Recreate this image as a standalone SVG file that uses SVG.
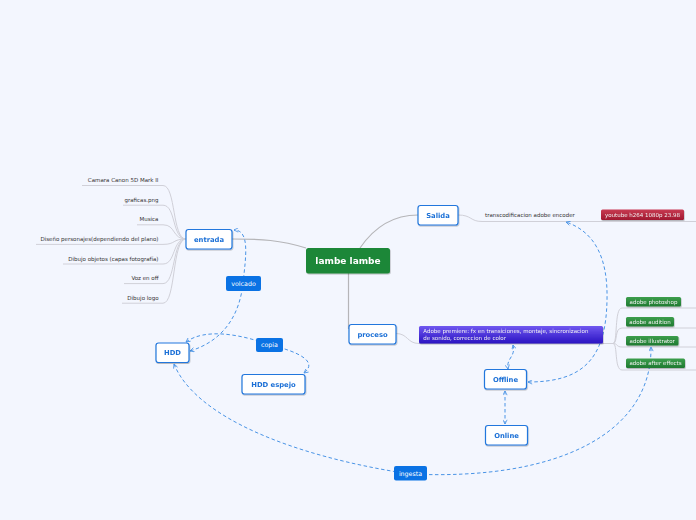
<svg xmlns="http://www.w3.org/2000/svg" width="696" height="520" viewBox="0 0 696 520">
<defs>
<style>
.node rect{fill:#fff;stroke:#2277dd;stroke-width:1.2}
.node text{font-family:'DejaVu Sans',sans-serif;font-weight:bold;font-size:6.8px;fill:#1a6fd6;text-anchor:middle}
.leaf{font-family:'DejaVu Sans',sans-serif;font-size:5.5px;fill:#333}
.lbl rect{fill:#0a72e4}
.lbl text{font-family:'DejaVu Sans',sans-serif;font-size:6.3px;fill:#fff;text-anchor:middle}
.tag text{font-family:'DejaVu Sans',sans-serif;font-size:5.5px;fill:#f2f2f2}
.green rect{fill:url(#gg)}
.main{fill:none;stroke:#b5b5b8;stroke-width:1.2}
.thin{fill:none;stroke:#d0d0d8;stroke-width:1}
.dash{fill:none;stroke:#4a94e6;stroke-width:1;stroke-dasharray:3.5 2.5;marker-start:url(#ah);marker-end:url(#ah)}
</style>
<marker id="ah" viewBox="0 0 6 6" refX="5.5" refY="3" markerWidth="5" markerHeight="5" orient="auto-start-reverse" markerUnits="userSpaceOnUse">
<path d="M0.5,0.5 L5.5,3 L0.5,5.5" fill="none" stroke="#4a94e6" stroke-width="1"/>
</marker>
<linearGradient id="gg" x1="0" y1="0" x2="0" y2="1"><stop offset="0" stop-color="#3c9e4c"/><stop offset="1" stop-color="#1f7a31"/></linearGradient>
<linearGradient id="gr" x1="0" y1="0" x2="0" y2="1"><stop offset="0" stop-color="#c83a52"/><stop offset="1" stop-color="#a01830"/></linearGradient>
<linearGradient id="gp" x1="0" y1="0" x2="0" y2="1"><stop offset="0" stop-color="#7058f0"/><stop offset="1" stop-color="#2a12c2"/></linearGradient>
<filter id="sh" x="-10%" y="-10%" width="130%" height="150%"><feDropShadow dx="0.6" dy="1" stdDeviation="0.6" flood-color="#000" flood-opacity="0.25"/></filter>
</defs>
<rect width="696" height="520" fill="#f3f6fe"/>

<g id="connectors">
<path class="main" d="M306,248 C280,240 262,239 232,239"/>
<path class="main" d="M360,248 C375,226 395,215 418,215"/>
<path class="main" d="M348.5,273 L348.5,329"/>
<path class="thin" d="M82,185.5 H163 C176,185.5 172,239 186,239"/>
<path class="thin" d="M123,205.2 H163 C176,205.2 172,239 186,239"/>
<path class="thin" d="M137,224.8 H163 C176,224.8 172,239 186,239"/>
<path class="thin" d="M36,244.4 H163 C176,244.4 172,239 186,239"/>
<path class="thin" d="M63,264 H163 C176,264 172,239 186,239"/>
<path class="thin" d="M124,283.6 H163 C176,283.6 172,239 186,239"/>
<path class="thin" d="M122,303.2 H163 C176,303.2 172,239 186,239"/>
<path class="thin" d="M458,215 C472,215 470,221.5 482,221.5 H696"/>
<path class="thin" d="M396,333.5 C408,333.5 407,343.5 419,343.5 H613"/>
<path class="thin" d="M613,343.5 C618,343.5 614,308 622,308 H696"/>
<path class="thin" d="M613,343.5 C618,343.5 614,328 622,328 H696"/>
<path class="thin" d="M613,343.5 C618,343.5 616,347 622,347 H696"/>
<path class="thin" d="M613,343.5 C618,343.5 614,370 622,370 H696"/>
<path class="dash" d="M190,351 C226,340 240,312 243,283 C246,256 250,230 234,230"/>
<path class="dash" d="M186,342 C205,328 240,334 270,345 C300,352 318,362 304,373"/>
<path class="dash" d="M528,382 C582,382 606,360 607,300 C608,258 595,232 566,222"/>
<path class="dash" d="M513,345 C516,357 506,358 508,369"/>
<path class="dash" d="M505,391 L505,424"/>
<path class="dash" d="M174,364 C195,416 290,456 410,474 C560,481 652,432 651,347"/>
</g>

<g id="center" filter="url(#sh)"><rect x="306" y="248" width="84" height="25.5" rx="2.5" fill="#1e8738"/><text x="348" y="264" font-family="'DejaVu Sans',sans-serif" font-weight="bold" font-size="9px" fill="#fff" text-anchor="middle">lambe lambe</text></g>

<g id="entrada" class="node" filter="url(#sh)"><rect x="186" y="229.5" width="46" height="19.5" rx="2.5"/><text x="209" y="241.6">entrada</text></g>
<g id="salida" class="node" filter="url(#sh)"><rect x="418" y="205.5" width="40" height="19.5" rx="2.5"/><text x="438" y="217.6">Salida</text></g>
<g id="proceso" class="node" filter="url(#sh)"><rect x="349" y="324.5" width="47" height="19.5" rx="2.5"/><text x="372.5" y="336.6">proceso</text></g>
<g id="hdd" class="node" filter="url(#sh)"><rect x="156" y="343" width="33" height="19.5" rx="2.5"/><text x="172.5" y="355.1">HDD</text></g>
<g id="hddespejo" class="node" filter="url(#sh)"><rect x="242" y="374.5" width="63" height="19.5" rx="2.5"/><text x="273.5" y="386.6">HDD espejo</text></g>
<g id="offline" class="node" filter="url(#sh)"><rect x="484.5" y="369.5" width="42" height="19.5" rx="2.5"/><text x="505.5" y="381.6">Offline</text></g>
<g id="online" class="node" filter="url(#sh)"><rect x="485.5" y="425.5" width="42" height="19.5" rx="2.5"/><text x="506.5" y="437.6">Online</text></g>

<g id="entrada-children" class="leaf" text-anchor="end">
<text x="158.5" y="182">Camara Canon 5D Mark II</text>
<text x="158.5" y="201.7">graficas.png</text>
<text x="158.5" y="221.3">Musica</text>
<text x="158.5" y="240.9">Diseño personajes(dependiendo del plano)</text>
<text x="158.5" y="260.5">Dibujo objetos (capas fotografía)</text>
<text x="158.5" y="280.1">Voz en off</text>
<text x="158.5" y="299.7">Dibujo logo</text>
</g>
<g id="transcod"><text class="leaf" x="485" y="217">transcodificacion adobe encoder</text></g>
<g id="youtube" class="tag" filter="url(#sh)"><rect x="601" y="209.5" width="83" height="10.5" rx="1.5" fill="url(#gr)"/><text x="642.5" y="216.7" text-anchor="middle">youtube h264 1080p 23.98</text></g>
<g id="premiere" class="tag" filter="url(#sh)"><rect x="419" y="326" width="184" height="17.5" rx="1.5" fill="url(#gp)"/><text x="423.3" y="333">Adobe premiere: fx en transiciones, montaje, sincronizacion</text><text x="423.3" y="340.3">de sonido, correccion de color</text></g>
<g id="photoshop" class="tag green" filter="url(#sh)"><rect x="626" y="297" width="55" height="9.5" rx="1.5"/><text x="653.5" y="303.6" text-anchor="middle">adobe photoshop</text></g>
<g id="audition" class="tag green" filter="url(#sh)"><rect x="626" y="317" width="48" height="9.5" rx="1.5"/><text x="650" y="323.6" text-anchor="middle">adobe audition</text></g>
<g id="illustrator" class="tag green" filter="url(#sh)"><rect x="626" y="336" width="52.5" height="9.5" rx="1.5"/><text x="652.2" y="342.6" text-anchor="middle">adobe illustrator</text></g>
<g id="aftereffects" class="tag green" filter="url(#sh)"><rect x="626" y="358.5" width="59" height="9.5" rx="1.5"/><text x="655.5" y="365.1" text-anchor="middle">adobe after effects</text></g>

<g id="volcado" class="lbl"><rect x="226" y="276" width="35" height="15" rx="2"/><text x="243.5" y="285.8">volcado</text></g>
<g id="copia" class="lbl"><rect x="256" y="338" width="27" height="14" rx="2"/><text x="269.5" y="347.3">copia</text></g>
<g id="ingesta" class="lbl"><rect x="394" y="466" width="33" height="14.5" rx="2"/><text x="410.5" y="475.6">ingesta</text></g>
</svg>
